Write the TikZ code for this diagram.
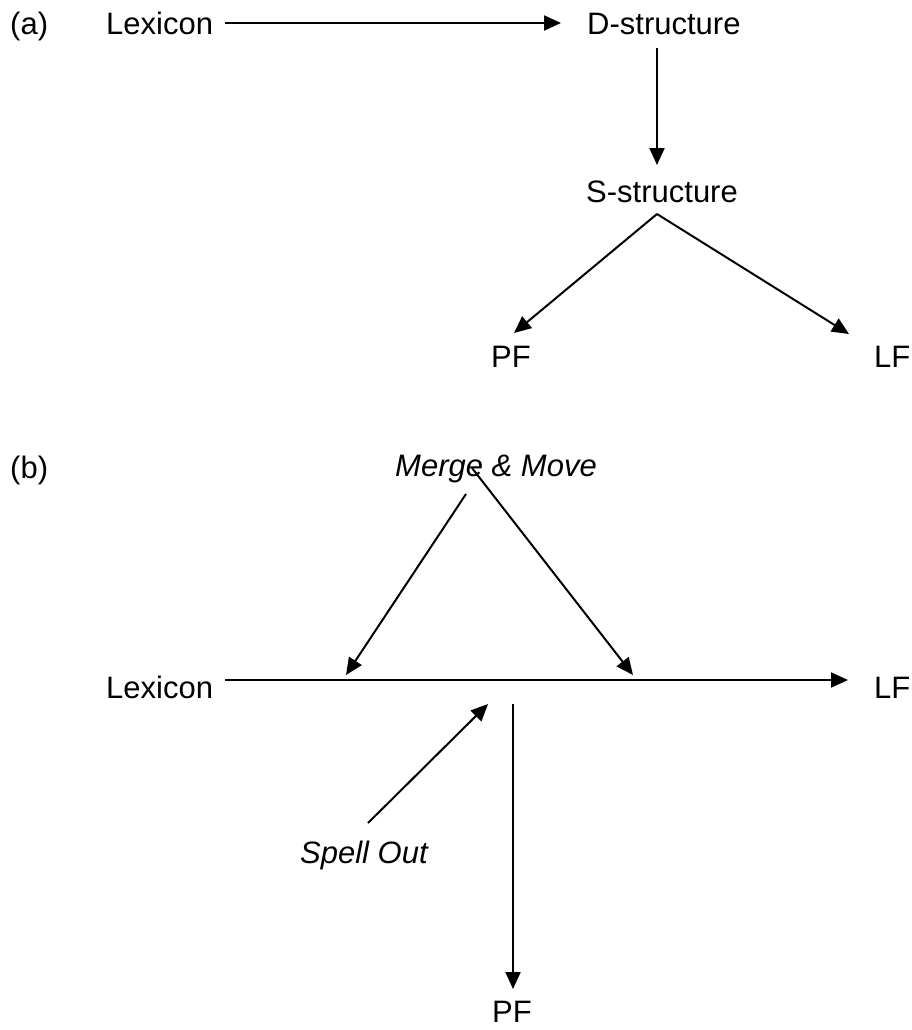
\documentclass[tikz,border=0pt]{standalone}
\usepackage{fontspec}
\setmainfont{Liberation Sans}
\usetikzlibrary{arrows.meta}
\begin{document}
\begin{tikzpicture}[x=1pt,y=-1pt,
  lbl/.style={anchor=base west,inner sep=0pt,font=\fontsize{31}{37}\selectfont},
  ilbl/.style={lbl,font=\fontsize{31}{37}\selectfont\itshape},
  conn/.style={line width=2pt,-{Triangle[length=17pt,width=15pt]}}]
\useasboundingbox (0,0) rectangle (911,1030);
% (a)
\node[lbl] (la) at (10,35) {(a)};
\node[lbl] (lexA) at (106,35) {Lexicon};
\node[lbl] (dstr) at (587,35) {D-structure};
\node[lbl] (sstr) at (586,202) {S-structure};
\node[lbl] (pfA) at (491,367) {PF};
\node[lbl] (lfA) at (874,367) {LF};
\coordinate (a1) at (225,23);
\coordinate (a1t) at (561,23);
\coordinate (a2) at (657,48);
\coordinate (a2t) at (657,165);
\coordinate (apex) at (657,214);
\coordinate (pfAt) at (514,333);
\coordinate (lfAt) at (849,334);
\draw[conn] (a1) -- (a1t);
\draw[conn] (a2) -- (a2t);
\draw[conn] (apex) -- (pfAt);
\draw[conn] (apex) -- (lfAt);
% (b)
\node[lbl] (lb) at (10,478) {(b)};
\node[ilbl] (mm) at (395,476) {Merge \& Move};
\node[lbl] (lexB) at (106,698) {Lexicon};
\node[lbl] (lfB) at (874,698) {LF};
\node[ilbl] (so) at (300,863) {Spell Out};
\node[lbl] (pfB) at (492,1022) {PF};
\coordinate (h1) at (225,680);
\coordinate (h1t) at (848,680);
\coordinate (m1) at (466,494);
\coordinate (m1t) at (346,675);
\coordinate (m2) at (472,468);
\coordinate (m2t) at (633,675);
\coordinate (s1) at (368,823);
\coordinate (s1t) at (488,704);
\coordinate (v1) at (513,704);
\coordinate (v1t) at (513,989);
\draw[conn] (h1) -- (h1t);
\draw[conn] (m1) -- (m1t);
\draw[conn] (m2) -- (m2t);
\draw[conn] (s1) -- (s1t);
\draw[conn] (v1) -- (v1t);
\end{tikzpicture}
\end{document}
